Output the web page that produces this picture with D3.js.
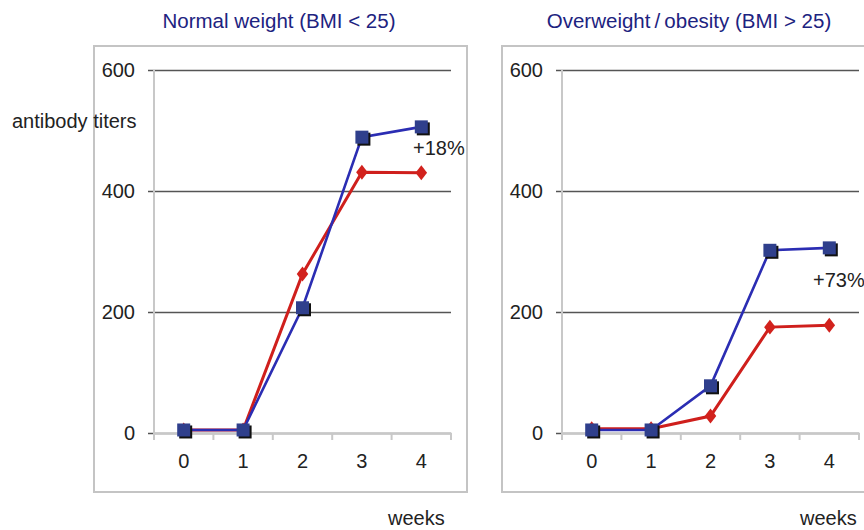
<!DOCTYPE html>
<html>
<head>
<meta charset="utf-8">
<script src="https://cdn.jsdelivr.net/npm/d3@7"></script>
<style>
  body { margin: 0; background: #fff; }
  text { font-family: "Liberation Sans", Arial, sans-serif; }
</style>
</head>
<body>
<script>
// data
const weeks = ["0", "1", "2", "3", "4"];
const yTicks = [0, 200, 400, 600];

const normalVaccine = [5, 5, 207, 489, 506];   // blue squares
const normalControl = [5, 5, 263, 431, 430];   // red diamonds
const overVaccine = [5, 5, 78, 302, 306];
const overControl = [7, 7, 28, 175, 178];

const panels = [
  { title: "Normal weight (BMI < 25)", blue: normalVaccine, red: normalControl,
    note: "+18%", box: [94, 46, 373, 446], plot: [154, 451], titleX: 279,
    noteX: 413, noteY: 155, weeksX: 388 },
  { title: "Overweight\u2009/\u2009obesity (BMI > 25)", blue: overVaccine, red: overControl,
    note: "+73%", box: [502, 46, 400, 446], plot: [562, 859], titleX: 689,
    noteX: 813, noteY: 287, weeksX: 800 }
];

const fontSize = 20;
const width = 864, height = 530;
const svg = d3.select("body").append("svg")
  .attr("width", width)
  .attr("height", height);

const y = d3.scaleLinear().domain([0, 600]).range([433, 70]);

panels.forEach(p => {
  const g = svg.append("g");

  // outer frame
  g.append("rect")
    .attr("x", p.box[0]).attr("y", p.box[1])
    .attr("width", p.box[2]).attr("height", p.box[3])
    .attr("fill", "none")
    .attr("stroke", "#c4c4c4")
    .attr("stroke-width", 2);

  // title
  g.append("text")
    .attr("x", p.titleX).attr("y", 28)
    .attr("text-anchor", "middle")
    .attr("font-size", 20.5)
    .attr("fill", "#1d2380")
    .text(p.title);

  const x = d3.scaleBand().domain(weeks).range(p.plot);

  // gridlines + y labels
  const yAxis = g.append("g")
    .attr("transform", `translate(${p.plot[0] - 6},0)`)
    .call(d3.axisLeft(y).tickValues(yTicks)
      .tickSize(-(p.plot[1] - p.plot[0] + 6))
      .tickPadding(13));
  yAxis.select(".domain").remove();
  yAxis.selectAll(".tick line")
    .attr("stroke", "#555")
    .attr("stroke-width", 1.6);
  yAxis.selectAll(".tick text")
    .attr("font-size", fontSize)
    .attr("fill", "#222")
    .attr("font-family", "Liberation Sans, Arial, sans-serif");

  // y axis line
  g.append("line")
    .attr("x1", p.plot[0]).attr("x2", p.plot[0])
    .attr("y1", y(600)).attr("y2", y(0))
    .attr("stroke", "#c8c8c8")
    .attr("stroke-width", 2);

  // x axis
  const xAxis = g.append("g")
    .attr("transform", `translate(0,${y(0)})`)
    .call(d3.axisBottom(x).tickSize(0).tickPadding(21));
  xAxis.select(".domain")
    .attr("stroke", "#c8c8c8")
    .attr("stroke-width", 2);
  xAxis.selectAll(".tick text")
    .attr("font-size", fontSize)
    .attr("fill", "#222")
    .attr("font-family", "Liberation Sans, Arial, sans-serif");

  // tick marks at category boundaries
  const bounds = weeks.map(w => x(w)).concat([p.plot[1]]);
  g.selectAll(".xtick")
    .data(bounds)
    .enter()
    .append("line")
    .attr("x1", d => d).attr("x2", d => d)
    .attr("y1", y(0)).attr("y2", y(0) + 7)
    .attr("stroke", "#c8c8c8")
    .attr("stroke-width", 2);

  const cx = (d, i) => x(weeks[i]) + x.bandwidth() / 2;
  const line = d3.line().x(cx).y(d => y(d));

  // red series
  g.append("path")
    .datum(p.red)
    .attr("d", line)
    .attr("fill", "none")
    .attr("stroke", "#cf1f1c")
    .attr("stroke-width", 3);
  g.selectAll(".dia")
    .data(p.red)
    .enter()
    .append("path")
    .attr("d", d3.symbol(d3.symbolDiamond, 80))
    .attr("transform", (d, i) => `translate(${cx(d, i)},${y(d)}) scale(1.2,0.9)`)
    .attr("fill", "#d2221d");

  // blue series
  g.append("path")
    .datum(p.blue)
    .attr("d", line)
    .attr("fill", "none")
    .attr("stroke", "#2b2db3")
    .attr("stroke-width", 2.6);
  const s = 13;
  g.selectAll(".shadow")
    .data(p.blue)
    .enter()
    .append("rect")
    .attr("x", (d, i) => cx(d, i) - s / 2 + 2)
    .attr("y", d => y(d) - s / 2 + 2)
    .attr("width", s).attr("height", s)
    .attr("fill", "#111");
  g.selectAll(".sq")
    .data(p.blue)
    .enter()
    .append("rect")
    .attr("x", (d, i) => cx(d, i) - s / 2)
    .attr("y", d => y(d) - s / 2)
    .attr("width", s).attr("height", s)
    .attr("fill", "#2f3f8c");

  // annotation
  g.append("text")
    .attr("x", p.noteX).attr("y", p.noteY)
    .attr("font-size", fontSize)
    .attr("fill", "#222")
    .text(p.note);

  g.append("text")
    .attr("x", p.weeksX).attr("y", 525)
    .attr("font-size", fontSize)
    .attr("fill", "#222")
    .text("weeks");
});

svg.append("text")
  .attr("x", 12).attr("y", 128)
  .attr("font-size", fontSize)
  .attr("fill", "#222")
  .text("antibody titers");
</script>
</body>
</html>
